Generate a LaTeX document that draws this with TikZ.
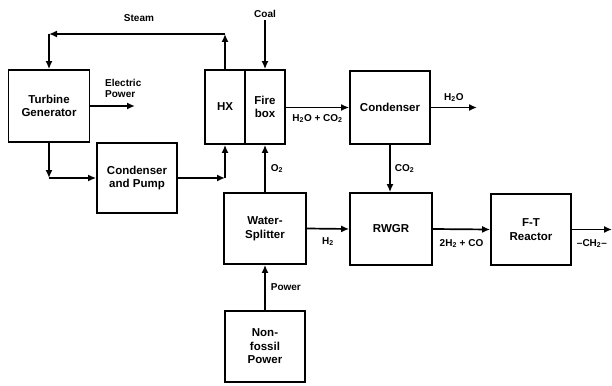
\documentclass[tikz,border=0pt]{standalone}
\usepackage{fontspec}
\setmainfont{Liberation Sans}
\usepackage{tikz}
\usetikzlibrary{arrows.meta,positioning,calc}

\tikzset{
  unit/.style={draw, line width=1.7pt, align=center, font=\bfseries\fontsize{11.5}{13.5}\selectfont},
  flow/.style={-{Latex[length=8pt,width=7pt]}, line width=1.7pt},
  lbl/.style={font=\bfseries\fontsize{10}{11}\selectfont, inner sep=1pt}
}

\begin{document}
\begin{tikzpicture}[x=1pt,y=-1pt]
\useasboundingbox (0,0) rectangle (612,385);
% blocks
\node[unit, minimum width=81pt, minimum height=72pt] (tg) at (49,106) {Turbine\\Generator};
\node[unit, minimum width=80pt, minimum height=70pt] (cp) at (137,178) {Condenser\\and Pump};
\node[unit, minimum width=40pt, minimum height=74pt] (hx) at (225,107) {HX};
\node[unit, minimum width=40pt, minimum height=74pt] (fb) at (265,107) {Fire\\box};
\node[unit, minimum width=80pt, minimum height=73pt] (cond) at (390,107.5) {Condenser};
\node[unit, minimum width=82pt, minimum height=71pt] (ws) at (265,228.5) {Water-\\Splitter};
\node[unit, minimum width=82pt, minimum height=72pt] (rwgr) at (391,229) {RWGR};
\node[unit, minimum width=80pt, minimum height=71pt] (ft) at (531,229.5) {F-T\\Reactor};
\node[unit, minimum width=80pt, minimum height=71pt] (nf) at (265,346.5) {Non-\\fossil\\Power};
% free ends
\coordinate (coal) at (265,20);
\coordinate (st) at (225,34);
\coordinate (st2) at (49,34);
\coordinate (elec) at (135,106);
\coordinate (h2o) at (477,107.5);
\coordinate (ch2) at (612,229.5);
% steam loop
\draw[flow] (hx.north) -- (st);
\draw[flow] (st) -- (st2);
\draw[flow] (st2) -- (tg.north);
\node[lbl] (steam) at (139,18) {Steam};
% coal
\draw[flow] (coal) -- (fb.north);
\node[lbl, above=1pt of coal] (coallbl) {Coal};
% electric power
\draw[flow] (tg.east) -- (elec);
\node[lbl, align=left, anchor=south west] (eplbl) at (104,99) {Electric\\Power};
% water loop
\draw[flow] (tg.south) -- (tg.south |- cp.west);
\draw[flow] (tg.south |- cp.west) -- (cp.west);
\draw[flow] (cp.east) -- (hx.south |- cp.east);
\draw[flow] (hx.south |- cp.east) -- (hx.south);
% flue gas
\draw[flow] (fb.east |- cond.west) -- (cond.west) node[lbl, midway, below=5pt] (fglbl) {H\textsubscript{2}O + CO\textsubscript{2}};
\draw[flow] (cond.east) -- (h2o) node[lbl, midway, above=4pt] (h2olbl) {H\textsubscript{2}O};
\draw[flow] (cond.south) -- (cond.south |- rwgr.north) node[lbl, midway, right=3pt] (co2lbl) {CO\textsubscript{2}};
% oxygen and hydrogen
\draw[flow] (ws.north) -- (fb.south) node[lbl, midway, right=4pt] (o2lbl) {O\textsubscript{2}};
\draw[flow] (ws.east) -- (rwgr.west) node[lbl, midway, below=7pt] (h2lbl) {H\textsubscript{2}};
\draw[flow] (rwgr.east) -- (ft.west) node[lbl, midway, below=8pt] (sglbl) {2H\textsubscript{2} + CO};
\draw[flow] (ft.east) -- (ch2) node[lbl, midway, below=8pt] (ch2lbl) {--CH\textsubscript{2}--};
\draw[flow] (nf.north) -- (ws.south) node[lbl, midway, right=4pt] (pwlbl) {Power};
\end{tikzpicture}
\end{document}
